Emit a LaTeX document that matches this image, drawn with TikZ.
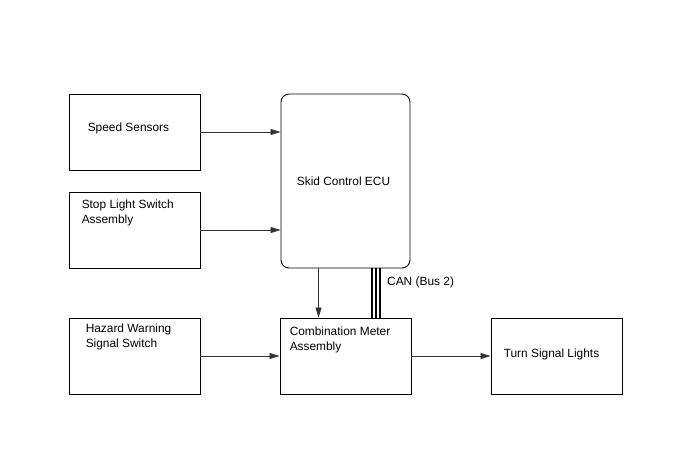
\documentclass[tikz,border=0pt]{standalone}
\usepackage{fontspec}
\setmainfont{Liberation Sans}
\usetikzlibrary{arrows.meta, positioning, calc}

\begin{document}
\begin{tikzpicture}[
    x=1pt, y=1pt,
    box/.style={rectangle, draw, line width=0.9pt, minimum width=131pt, minimum height=76pt, inner sep=0pt},
    ecubox/.style={box, rounded corners=8pt, minimum width=129pt, minimum height=174pt},
    txt/.style={font=\fontsize{11.9}{14.8}\selectfont, align=left, inner sep=0pt},
    arrow/.style={-{Triangle[length=10pt, width=6pt]}, draw=black!80, line width=0.6pt},
    bus/.style={line width=2pt}
  ]
  \useasboundingbox (0,0) rectangle (688,-463);

  % 1. Blocks
  \node[box] (speed) at (134.5,-132) {};
  \node[box] (stop) at (134.5,-230) {};
  \node[box] (hazard) at (134.5,-356) {};
  \node[ecubox] (ecu) at (345.5,-181) {};
  \node[box] (meter) at (345.5,-356) {};
  \node[box] (turn) at (556.5,-356) {};

  % 2. Texts inside the blocks
  \node[txt, anchor=west] (speedtext) at ([xshift=19pt, yshift=3.5pt]speed.west) {Speed Sensors};
  \node[txt, anchor=west] (stoptext) at ([xshift=13pt, yshift=17pt]stop.west) {Stop Light Switch\\Assembly};
  \node[txt, anchor=west] (hazardtext) at ([xshift=17pt, yshift=19pt]hazard.west) {Hazard Warning\\Signal Switch};
  \node[txt] (ecutext) at ([xshift=-2pt]ecu.center) {Skid Control ECU};
  \node[txt, anchor=west] (metertext) at ([xshift=10pt, yshift=16pt]meter.west) {Combination Meter\\Assembly};
  \node[txt, anchor=west] (turntext) at ([xshift=13pt, yshift=2pt]turn.west) {Turn Signal Lights};

  % 3. Arrows
  \draw[arrow] (speed.east) -- (speed.east -| ecu.west);
  \draw[arrow] (stop.east) -- (stop.east -| ecu.west);
  \draw[arrow] (hazard.east) -- (meter.west);
  \draw[arrow] (meter.east) -- (turn.west);
  \draw[arrow] ([xshift=38pt]ecu.south west) -- ([xshift=38pt]ecu.south west |- meter.north);

  % 4. CAN bus (three lines)
  \foreach \dx in {91,95,99}
    \draw[bus] ([xshift=\dx pt]ecu.south west) -- ([xshift=\dx pt]ecu.south west |- meter.north);
  \node[txt, anchor=west] (canlabel) at (387,-282) {CAN (Bus 2)};

\end{tikzpicture}
\end{document}
